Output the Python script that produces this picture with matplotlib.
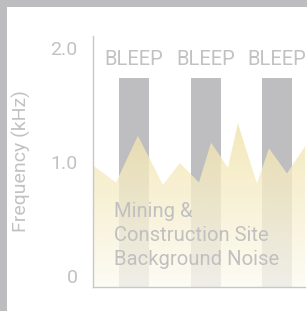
import matplotlib
matplotlib.use("Agg")
import matplotlib.pyplot as plt
import numpy as np
from matplotlib.patches import Rectangle, Polygon

# bleep bars (time in arbitrary units, frequency in kHz)
bleep_x = [1.16, 3.19, 5.20]
bleep_top = [1.74, 1.74, 1.74]
bleep_labels = ["BLEEP", "BLEEP", "BLEEP"]

# background noise outline
noise_x = [0.0, 0.65, 1.27, 1.98, 2.46, 3.00, 3.34, 3.82, 4.10, 4.64, 4.98, 5.49, 6.05]
noise_y = [0.97, 0.82, 1.23, 0.80, 0.99, 0.82, 1.17, 0.95, 1.34, 0.81, 1.12, 0.90, 1.16]

y_ticks = [0, 1, 2]
y_ticklabels = ["0", "1.0", "2.0"]

TXT = "#c2c2c2"
plt.rcParams["font.family"] = ["Roboto", "DejaVu Sans"]

fig = plt.figure(figsize=(3.07, 3.11), dpi=100)
fig.patch.set_facecolor("#bdbdbf")
fig.patches.append(Rectangle((7 / 307, 0), 1, 304 / 311, transform=fig.transFigure,
                             facecolor="white", edgecolor="none", zorder=-5))

ax = fig.add_axes([93 / 307, 24 / 311, 212 / 307, 251 / 311])
ax.set_facecolor("none")
ymin, ymax = -0.096, 2.105

# gray bleep bars
ax.bar(bleep_x, [t - ymin for t in bleep_top], bottom=ymin, width=0.85,
       color="#bebec0", zorder=1)
for x, lab in zip(bleep_x, bleep_labels):
    ax.text(x, 1.895, lab, ha="center", va="center", fontsize=14.5,
            color=TXT, zorder=3)

# noise area with a vertical yellow -> white gradient
verts = [(noise_x[0], ymin)] + list(zip(noise_x, noise_y)) + [(noise_x[-1], ymin)]
poly = Polygon(verts, closed=True, facecolor="none", edgecolor="none")
ax.add_patch(poly)
top_c = np.array([241, 227, 170]) / 255
bot_c = np.array([253, 251, 243]) / 255
t = np.linspace(0, 1, 256)[:, None]
grad = np.zeros((256, 1, 4))
grad[:, 0, :3] = top_c * (1 - t) + bot_c * t
grad[:, 0, 3] = 0.8
im = ax.imshow(grad, extent=[0, 6.05, ymin, max(noise_y)], aspect="auto",
               origin="upper", zorder=2, interpolation="bilinear")
im.set_clip_path(poly)
ax.set_xlim(0, 6)
ax.set_ylim(ymin, ymax)

ax.text(0.59, 0.65, "Mining &\nConstruction Site\nBackground Noise",
        ha="left", va="top", fontsize=14.6, color="#c0c0c0",
        linespacing=1.34, zorder=4)

# axes styling
for s in ["top", "right"]:
    ax.spines[s].set_visible(False)
for s in ["left", "bottom"]:
    ax.spines[s].set_color("#c8c8c8")
    ax.spines[s].set_linewidth(1)
ax.set_xticks([])
ax.set_yticks(y_ticks)
ax.set_yticklabels(y_ticklabels)
ax.tick_params(axis="y", length=0, pad=11, labelsize=14, labelcolor=TXT)
ax.set_ylabel("Frequency (kHz)", fontsize=14, color=TXT, labelpad=14)

fig.savefig("out.png", dpi=100, facecolor=fig.get_facecolor())
